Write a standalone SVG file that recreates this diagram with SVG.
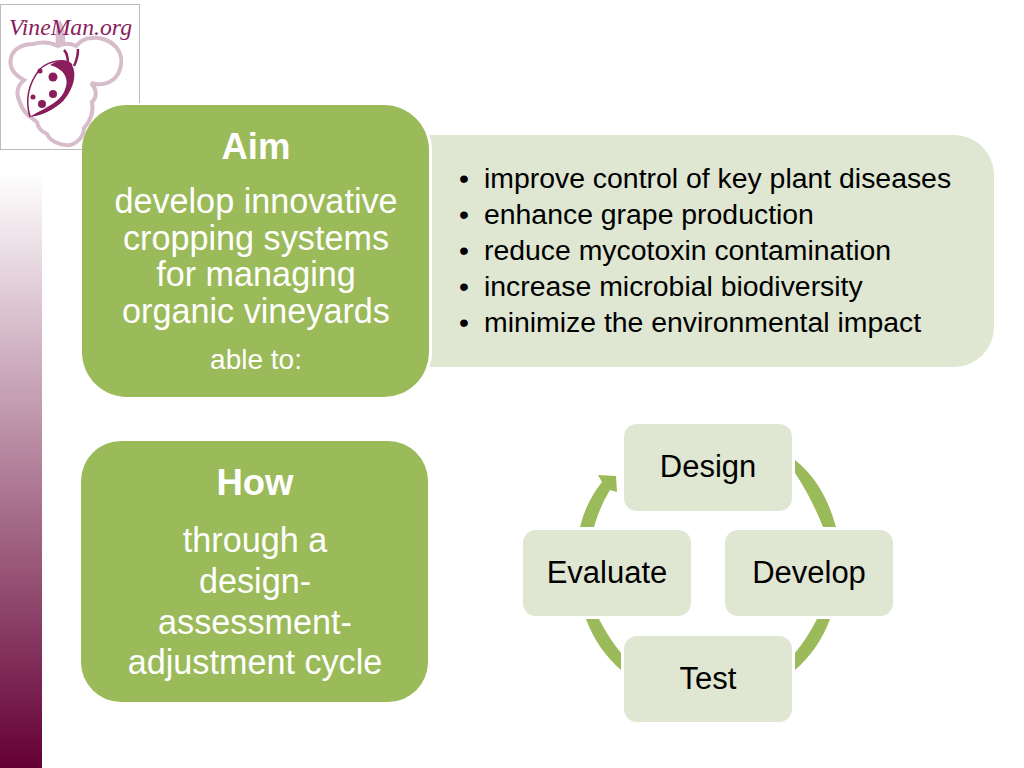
<svg xmlns="http://www.w3.org/2000/svg" width="1024" height="768" viewBox="0 0 1024 768">
<style>
text{font-family:"Liberation Sans",Arial,sans-serif;fill:#000}
text.w{fill:#fff}
.m{text-anchor:middle}
.h{font-size:36.5px;font-weight:bold}
.b{font-size:34.2px}
.t{font-size:28.4px}
.s{font-size:31px}
.g{fill:#9bba59}
.l{fill:#dfe6d1}
.d{fill:#8a1d5c}
</style>
<defs>
<linearGradient id="bar" x1="0" y1="0" x2="0" y2="1">
<stop offset="0" stop-color="#fff"/>
<stop offset="1" stop-color="#640034"/>
</linearGradient>
</defs>
<rect width="1024" height="768" fill="#fff"/>
<rect x="0" y="172" width="42" height="596" fill="url(#bar)"/>
<g id="logo">
<rect x="0.5" y="4.5" width="139" height="145" fill="#fff" stroke="#bbb"/>
<path d="M60,20 C56,26 55,36 56,44 L65,44 C66,36 64,26 60,20 Z" fill="#d7bccb"/>
<path d="M58,46 C50,42 40,42 33,44 C24,44 13,48 11,58 C9,66 13,74 24,80 C17,86 16,94 19,100 C21,106 23,110 26,113 C30,117 33,119 37,122 C38,128 42,132 47,134 C50,141 60,146 70,145 C78,143 84,136 84,128 C90,122 94,112 92,102 C98,96 96,88 91,83 C100,86 112,84 118,74 C123,64 122,54 116,47 C110,40 100,37 92,38 C84,38 80,42 76,46 C70,43 64,43 58,46 Z" fill="#fff" stroke="#d7bccb" stroke-width="4"/>
<path d="M30,117 C25,100 28,84 40,69 C50,60 66,58 72,65" fill="none" stroke="#8a1d5c" stroke-width="1.5"/>
<path d="M68,64 C68,58 67,53 64,50 M74,66 C77,60 78,55 78,49" fill="none" stroke="#8a1d5c" stroke-width="2.5"/>
<path class="d" d="M50,65 C58,60 68,59 72,65 C77,74 74,88 64,100 C54,110 42,115 30,117 C44,112 58,104 64,92 C70,80 66,70 50,65 Z"/>
<path class="d" d="M30,117 C36,112 50,108 62,96 L64,100 C54,110 42,115 30,117 Z"/>
<circle class="d" cx="53" cy="77" r="4.5"/>
<circle class="d" cx="53" cy="94" r="4"/>
<circle class="d" cx="42" cy="104" r="4"/>
<circle class="d" cx="33" cy="97" r="2.5"/>
<circle class="d" cx="40" cy="71" r="2.5"/>
<text x="9" y="35" style="font-family:'Liberation Serif',serif;font-style:italic;font-size:23px;fill:#8a1d5c" textLength="123" lengthAdjust="spacingAndGlyphs">VineMan.org</text>
</g>
<g id="connectors">
<path class="g" d="M795,460 Q824,483 836,527 L823,527 Q811,497 795,473 Z"/>
<path class="g" d="M830,619 Q819,649 795,670 L795,653 Q808,637 817,619 Z"/>
<path class="g" d="M586,619 Q597,649 621,670 L621,653 Q608,637 599,619 Z"/>
<path class="g" d="M580,527 Q586,502 602,482 L598,475 L616,476 L617,492 L610,490 Q600,506 594,527 Z"/>
</g>
<g id="aim-detail">
<rect class="l" x="390" y="135" width="604" height="232" rx="40"/>
<text class="t" x="484" y="188">improve control of key plant diseases</text>
<text class="t" x="484" y="224">enhance grape production</text>
<text class="t" x="484" y="260">reduce mycotoxin contamination</text>
<text class="t" x="484" y="296">increase microbial biodiversity</text>
<text class="t" x="484" y="332">minimize the environmental impact</text>
<text class="t" x="459" y="188">•</text>
<text class="t" x="459" y="224">•</text>
<text class="t" x="459" y="260">•</text>
<text class="t" x="459" y="296">•</text>
<text class="t" x="459" y="332">•</text>
</g>
<g id="aim">
<rect x="82" y="103" width="350" height="296" rx="47" fill="#fff"/>
<rect class="g" x="82" y="105" width="347" height="292" rx="45"/>
<text class="w m h" x="256" y="159">Aim</text>
<text class="w m b" x="256" y="213">develop innovative</text>
<text class="w m b" x="256" y="250">cropping systems</text>
<text class="w m b" x="256" y="286">for managing</text>
<text class="w m b" x="256" y="323">organic vineyards</text>
<text class="w m" x="256" y="369" style="font-size:28px">able to:</text>
</g>
<g id="how">
<rect class="g" x="81" y="441" width="347" height="261" rx="40"/>
<text class="w m h" x="255" y="495">How</text>
<text class="w m b" x="255" y="552">through a</text>
<text class="w m b" x="255" y="593">design-</text>
<text class="w m b" x="255" y="634">assessment-</text>
<text class="w m b" x="255" y="674">adjustment cycle</text>
</g>
<g id="design">
<rect class="l" x="624" y="424" width="168" height="87" rx="13"/>
<text class="m s" x="708" y="477">Design</text>
</g>
<g id="develop">
<rect class="l" x="725" y="530" width="168" height="86" rx="13"/>
<text class="m s" x="809" y="583">Develop</text>
</g>
<g id="test">
<rect class="l" x="624" y="636" width="168" height="86" rx="13"/>
<text class="m s" x="708" y="689">Test</text>
</g>
<g id="evaluate">
<rect class="l" x="523" y="530" width="168" height="86" rx="13"/>
<text class="m s" x="607" y="583">Evaluate</text>
</g>
</svg>
